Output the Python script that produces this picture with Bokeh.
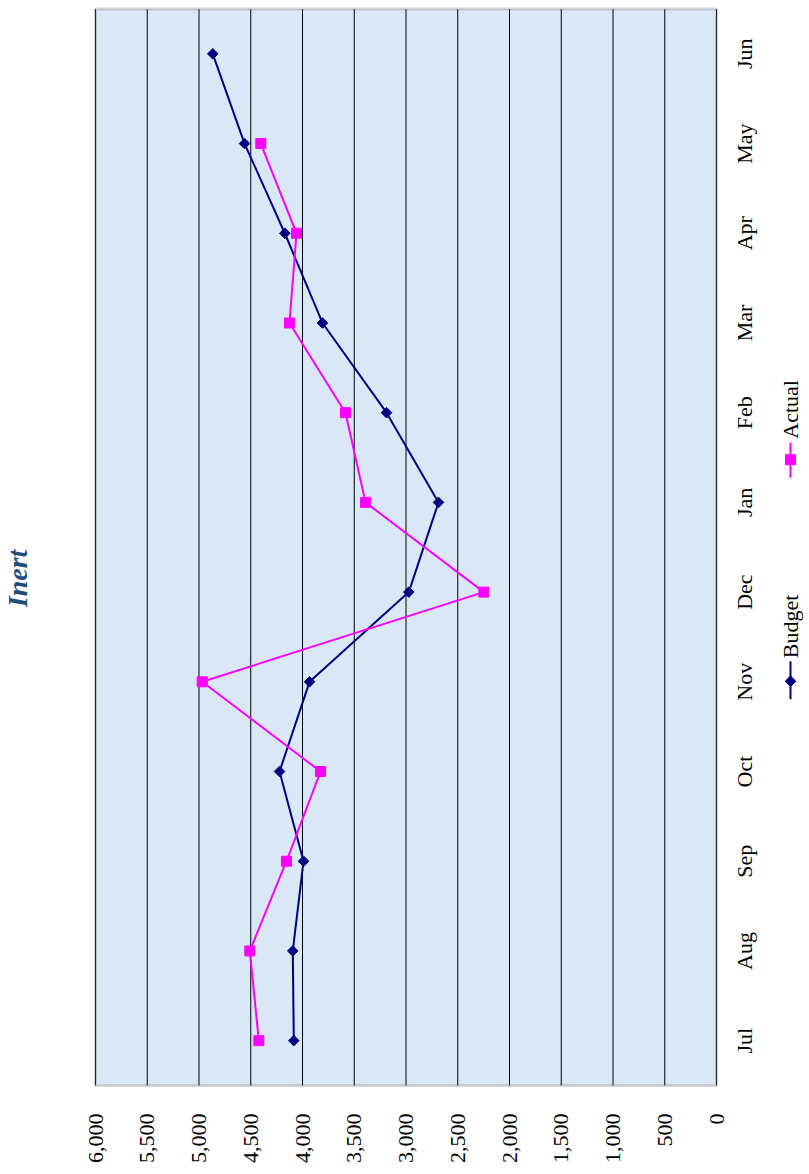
import math
from bokeh.plotting import figure
from bokeh.models import Range1d, FixedTicker, NumeralTickFormatter, BoxAnnotation
from bokeh.embed import file_html
from bokeh.resources import INLINE
from bokeh.core.properties import value

# ---------------- data ----------------
months = ["Jul", "Aug", "Sep", "Oct", "Nov", "Dec", "Jan", "Feb", "Mar", "Apr", "May", "Jun"]
budget = [4084, 4094, 3990, 4222, 3932, 2973, 2686, 3188, 3807, 4171, 4560, 4867]
actual = [4422, 4509, 4155, 3826, 4969, 2248, 3391, 3585, 4126, 4058, 4403]
value_ticks = [0, 500, 1000, 1500, 2000, 2500, 3000, 3500, 4000, 4500, 5000, 5500, 6000]
title_text = "Inert"
series_names = ["Budget", "Actual"]

NAVY = "#000080"
MAGENTA = "#FF00FF"
FONT = "Liberation Serif"

# ---------------- layout constants (pixels) ----------------
W, H = 807, 1166
FRAME_BOTTOM = 1092            # bottom of drawing frame; axis labels below
BOX_L, BOX_R = 95, 716         # plot-area box (value 6000 .. 0)
BOX_T, BOX_B = 8.5, 1087       # plot-area box (top .. bottom)
VMAX = 6000
n = len(months)

upx = VMAX / (BOX_R - BOX_L)               # value units per pixel
upy = n / (BOX_B - BOX_T)                  # category units per pixel
idx = list(range(n))


def px_to_x(px):
    return (BOX_R - px) * upx


def py_to_y(py):
    return (n - 0.5) - (py - BOX_T) * upy


p = figure(width=W, height=H, output_backend="svg", toolbar_location=None,
           x_range=Range1d(px_to_x(0), px_to_x(W)),
           y_range=Range1d(py_to_y(FRAME_BOTTOM), py_to_y(0)),
           min_border_left=0, min_border_right=0, min_border_top=0,
           min_border_bottom=H - FRAME_BOTTOM)
p.yaxis.visible = False
p.grid.visible = False
p.outline_line_color = None
p.background_fill_color = "white"
p.border_fill_color = "white"

# value axis (bottom)
xa = p.xaxis[0]
xa.ticker = FixedTicker(ticks=value_ticks)
xa.formatter = NumeralTickFormatter(format="0,0")
xa.major_label_orientation = math.pi / 2
xa.major_tick_in = 0
xa.major_tick_out = 0
xa.minor_tick_in = 0
xa.minor_tick_out = 0
xa.axis_line_color = None
xa.major_label_standoff = 1115 - FRAME_BOTTOM
xa.major_label_text_font = FONT
xa.major_label_text_font_size = "22px"
xa.major_label_text_color = "black"

# plot area background
p.add_layout(BoxAnnotation(left=0, right=VMAX, bottom=-0.5, top=n - 0.5,
                           fill_color="#dae7f5", fill_alpha=1.0, line_color=None,
                           level="underlay"))

# grid lines
p.segment(x0=value_ticks, x1=value_ticks, y0=[-0.5] * len(value_ticks),
          y1=[n - 0.5] * len(value_ticks), line_color="black", line_width=1)

# plot area border
p.add_layout(BoxAnnotation(left=0, right=VMAX, bottom=-0.5, top=n - 0.5,
                           fill_alpha=0, line_color="#7a7a7a", line_width=3))

# series
p.line(budget, idx, line_color=NAVY, line_width=2)
p.scatter(budget, idx, marker="square", angle=math.pi / 4, size=7.5,
          fill_color=NAVY, line_color=NAVY)
p.line(actual, idx[:len(actual)], line_color=MAGENTA, line_width=2)
p.scatter(actual, idx[:len(actual)], marker="square", size=10,
          fill_color=MAGENTA, line_color=MAGENTA)

# category labels (right side, rotated)
p.text(x=[0] * n, y=idx, text=months, angle=math.pi / 2, x_offset=28,
       text_font=value(FONT), text_font_size=value("22px"), text_align="center",
       text_baseline="middle", text_color="black")

# title (left side, rotated)
p.text(x=[px_to_x(17)], y=[py_to_y(579)], text=[title_text], angle=math.pi / 2,
       text_font=value(FONT), text_font_size=value("28px"),
       text_font_style=value("bold italic"), text_align="center",
       text_baseline="middle", text_color="#1f4e79")

# legend (rotated)
lx = px_to_x(790)
p.line([lx, lx], [py_to_y(662), py_to_y(700)], line_color=NAVY, line_width=2)
p.scatter([lx], [py_to_y(682)], marker="square", angle=math.pi / 4, size=7.5,
          fill_color=NAVY, line_color=NAVY)
p.text(x=[lx], y=[py_to_y(659)], text=[series_names[0]], angle=math.pi / 2,
       text_font=value(FONT), text_font_size=value("22px"), text_align="left",
       text_baseline="middle", text_color="black")

p.line([lx, lx], [py_to_y(443), py_to_y(478)], line_color=MAGENTA, line_width=2)
p.scatter([lx], [py_to_y(460)], marker="square", size=10,
          fill_color=MAGENTA, line_color=MAGENTA)
p.text(x=[lx], y=[py_to_y(439)], text=[series_names[1]], angle=math.pi / 2,
       text_font=value(FONT), text_font_size=value("22px"), text_align="left",
       text_baseline="middle", text_color="black")

open("out.html", "w").write(file_html(p, INLINE))
